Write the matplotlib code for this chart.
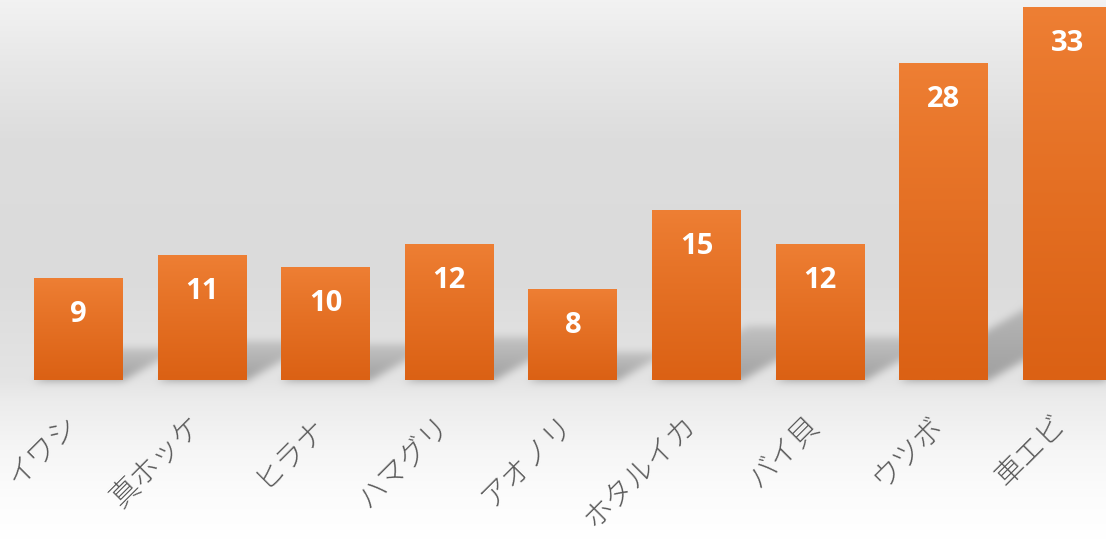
import numpy as np
import matplotlib
matplotlib.use("Agg")
import matplotlib.pyplot as plt
from matplotlib.transforms import ScaledTranslation

# ---- data ----
categories = ["イワシ", "真ホッケ", "ヒラナ", "ハマグリ", "アオノリ", "ホタルイカ", "バイ貝", "ウツボ", "車エビ"]
values = [9, 11, 10, 12, 8, 15, 12, 28, 33]

W, H = 1106, 539
DPI = 100
fig = plt.figure(figsize=(W / DPI, H / DPI), dpi=DPI)

# background axes (full figure)
bg_ax = fig.add_axes([0, 0, 1, 1], zorder=0)
bg_ax.set_axis_off()

# main axes
base_row = 380
ax = fig.add_axes([0, (H - base_row) / H, 1, base_row / H], zorder=1)
ax.patch.set_alpha(0)
for s in ax.spines.values():
    s.set_visible(False)

x = np.arange(len(categories))
bars = ax.bar(x, values, width=0.72, color="none", edgecolor="none")
ax.set_xlim(-0.635, 8.313)
ax.set_ylim(0, 33.63)
ax.set_yticks([])

# gradient fill for bars
top_c = np.array(matplotlib.colors.to_rgb("#ee7f34"))
bot_c = np.array(matplotlib.colors.to_rgb("#db6114"))
tt = np.linspace(0, 1, 256)[:, None]
ramp = np.clip(tt, 0, 1) ** 0.9
grad = top_c[None, :] * (1 - ramp) + bot_c[None, :] * ramp
grad = grad[:, None, :]
for r in bars:
    x0, w, h = r.get_x(), r.get_width(), r.get_height()
    ax.imshow(grad, extent=[x0, x0 + w, 0, h], aspect="auto", origin="upper",
              zorder=2, interpolation="bilinear")
ax.set_xlim(-0.635, 8.313)
ax.set_ylim(0, 33.63)

# value labels
for r, v in zip(bars, values):
    ax.annotate(str(v), (r.get_x() + r.get_width() / 2, r.get_height()),
                xytext=(0, -36), textcoords="offset pixels",
                ha="center", va="center", color="white",
                fontsize=21, fontweight="bold", family="Open Sans", zorder=3)

# tick labels
ax.set_xticks(x)
ax.set_xticklabels(categories, rotation=45, ha="right", rotation_mode="anchor",
                   va="center", color="#595959", fontsize=21,
                   family=["Noto Sans CJK JP", "DejaVu Sans"], fontweight="light")
ax.tick_params(axis="x", length=0, pad=29)
shift = ScaledTranslation(-5 / DPI, 0, fig.dpi_scale_trans)
for lbl in ax.get_xticklabels():
    lbl.set_transform(lbl.get_transform() + shift)

# ---- background gradient + shadows ----
rows_k = [0, 60, 140, 280, 380, 400, 450, 500, 539]
vals_k = [0.95, 0.91, 0.865, 0.86, 0.895, 0.925, 0.965, 0.99, 1.0]
rr = np.arange(H)
gray = np.interp(rr, rows_k, vals_k)[:, None] * np.ones((1, W))

alpha = np.zeros((H, W))
k = 1.75
sfac = 0.32
cols = np.arange(W)[None, :]
for r in bars:
    (dx0, dy0) = ax.transData.transform((r.get_x(), 0))
    (dx1, dy1) = ax.transData.transform((r.get_x() + r.get_width(), r.get_height()))
    rb = H - dy0
    hs = sfac * (dy1 - dy0)
    tvals = rb - rr
    valid = (tvals >= 0) & (tvals <= hs)
    t = np.where(valid, tvals, 0)[:, None]
    m = (cols >= dx0 + t * k) & (cols <= dx1 + t * k) & valid[:, None]
    strength = 0.3 * (1 - 0.55 * t / max(hs, 1))
    alpha = np.maximum(alpha, np.where(m, strength, 0))

sig = 4.0
kx = np.arange(-12, 13)
kern = np.exp(-kx ** 2 / (2 * sig ** 2))
kern /= kern.sum()
alpha = np.apply_along_axis(lambda a: np.convolve(a, kern, mode="same"), 1, alpha)
alpha = np.apply_along_axis(lambda a: np.convolve(a, kern, mode="same"), 0, alpha)

img = gray * (1 - alpha)
img = np.clip(np.dstack([img, img, img]), 0, 1)
bg_ax.imshow(img, extent=[0, W, 0, H], origin="upper", aspect="auto",
             interpolation="nearest")
bg_ax.set_xlim(0, W)
bg_ax.set_ylim(0, H)

fig.savefig("out.png", dpi=DPI)
